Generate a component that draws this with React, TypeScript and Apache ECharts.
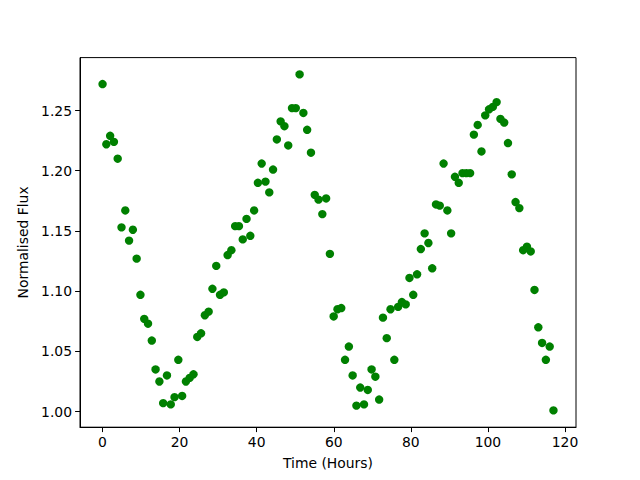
import React, { useEffect, useRef } from "react";
import * as echarts from "echarts";

// Observation times (hours), evenly spaced samples
const timeHours: number[] = [
  0.0, 0.98, 1.97, 2.95, 3.93, 4.92, 5.9, 6.88, 7.87, 8.85,
  9.83, 10.82, 11.8, 12.78, 13.76, 14.75, 15.73, 16.71, 17.7, 18.68,
  19.66, 20.65, 21.63, 22.61, 23.6, 24.58, 25.56, 26.55, 27.53, 28.51,
  29.5, 30.48, 31.46, 32.45, 33.43, 34.41, 35.39, 36.38, 37.36, 38.34,
  39.33, 40.31, 41.29, 42.28, 43.26, 44.24, 45.23, 46.21, 47.19, 48.18,
  49.16, 50.14, 51.13, 52.11, 53.09, 54.08, 55.06, 56.04, 57.03, 58.01,
  58.99, 59.97, 60.96, 61.94, 62.92, 63.91, 64.89, 65.87, 66.86, 67.84,
  68.82, 69.81, 70.79, 71.77, 72.76, 73.74, 74.72, 75.71, 76.69, 77.67,
  78.66, 79.64, 80.62, 81.61, 82.59, 83.57, 84.55, 85.54, 86.52, 87.5,
  88.49, 89.47, 90.45, 91.44, 92.42, 93.4, 94.39, 95.37, 96.35, 97.34,
  98.32, 99.3, 100.29, 101.27, 102.25, 103.24, 104.22, 105.2, 106.18, 107.17,
  108.15, 109.13, 110.12, 111.1, 112.08, 113.07, 114.05, 115.03, 116.02, 117.0,
];

// Normalised flux values
const flux: number[] = [
  1.272, 1.222, 1.229, 1.224, 1.210, 1.153, 1.167, 1.142, 1.151, 1.127,
  1.097, 1.077, 1.073, 1.059, 1.035, 1.025, 1.007, 1.030, 1.006, 1.012,
  1.043, 1.013, 1.025, 1.028, 1.031, 1.062, 1.065, 1.080, 1.083, 1.102,
  1.121, 1.097, 1.099, 1.130, 1.134, 1.154, 1.154, 1.143, 1.160, 1.146,
  1.167, 1.190, 1.206, 1.191, 1.182, 1.201, 1.226, 1.241, 1.237, 1.221,
  1.252, 1.252, 1.280, 1.248, 1.234, 1.215, 1.180, 1.176, 1.164, 1.177,
  1.131, 1.079, 1.085, 1.086, 1.043, 1.054, 1.030, 1.005, 1.020, 1.006,
  1.018, 1.035, 1.029, 1.010, 1.078, 1.061, 1.085, 1.043, 1.087, 1.091,
  1.089, 1.111, 1.097, 1.114, 1.135, 1.148, 1.140, 1.119, 1.172, 1.171,
  1.206, 1.167, 1.148, 1.195, 1.190, 1.198, 1.198, 1.198, 1.230, 1.238,
  1.216, 1.246, 1.251, 1.253, 1.257, 1.243, 1.240, 1.223, 1.197, 1.174,
  1.169, 1.134, 1.137, 1.133, 1.101, 1.070, 1.057, 1.043, 1.054, 1.001,
];

const xTicks: number[] = [0, 20, 40, 60, 80, 100, 120];
const yTicks: number[] = [1.0, 1.05, 1.1, 1.15, 1.2, 1.25];

export default function App() {
  const ref = useRef<HTMLDivElement>(null);
  useEffect(() => {
    if (!ref.current) return;
    const chart = echarts.init(ref.current, null, { renderer: "svg" });
    const font = "DejaVu Sans";
    const xMin = Math.min(...timeHours);
    const xMax = Math.max(...timeHours);
    const yMin = Math.min(...flux);
    const yMax = Math.max(...flux);
    const xm = (xMax - xMin) * 0.05;
    const ym = (yMax - yMin) * 0.05;
    chart.setOption({
      animation: false,
      backgroundColor: "#ffffff",
      grid: {
        left: 80,
        right: 64,
        top: 57.6,
        bottom: 52.8,
        show: true,
        borderColor: "#000000",
        borderWidth: 1,
        backgroundColor: "transparent",
      },
      xAxis: {
        type: "value",
        min: xMin - xm,
        max: xMax + xm,
        name: "Time (Hours)",
        nameLocation: "middle",
        nameGap: 29,
        nameTextStyle: { fontFamily: font, fontSize: 13.9, color: "#000" },
        axisLine: { show: true, onZero: false, lineStyle: { color: "#000", width: 1 } },
        axisTick: {
          show: true,
          inside: false,
          length: 4.9,
          customValues: xTicks,
          lineStyle: { color: "#000", width: 1 },
        },
        axisLabel: {
          show: true,
          customValues: xTicks,
          margin: 8,
          fontFamily: font,
          fontSize: 13.9,
          color: "#000",
          formatter: (v: number) => String(Math.round(v)),
        },
        splitLine: { show: false },
      },
      yAxis: {
        type: "value",
        min: yMin - ym,
        max: yMax + ym,
        name: "Normalised Flux",
        nameLocation: "middle",
        nameGap: 45,
        nameTextStyle: { fontFamily: font, fontSize: 13.9, color: "#000" },
        axisLine: { show: true, onZero: false, lineStyle: { color: "#000", width: 1 } },
        axisTick: {
          show: true,
          inside: false,
          length: 4.9,
          customValues: yTicks,
          lineStyle: { color: "#000", width: 1 },
        },
        axisLabel: {
          show: true,
          customValues: yTicks,
          margin: 8,
          fontFamily: font,
          fontSize: 13.9,
          color: "#000",
          formatter: (v: number) => v.toFixed(2),
        },
        splitLine: { show: false },
      },
      series: [
        {
          type: "scatter",
          data: timeHours.map((t, i) => [t, flux[i]]),
          symbol: "circle",
          symbolSize: 8.4,
          itemStyle: { color: "#008000", opacity: 1 },
          emphasis: { disabled: true },
        },
      ],
    });
    return () => chart.dispose();
  }, []);
  return (
    <div
      ref={ref}
      style={{ position: "fixed", left: 0, top: 0, width: 640, height: 480 }}
    />
  );
}
